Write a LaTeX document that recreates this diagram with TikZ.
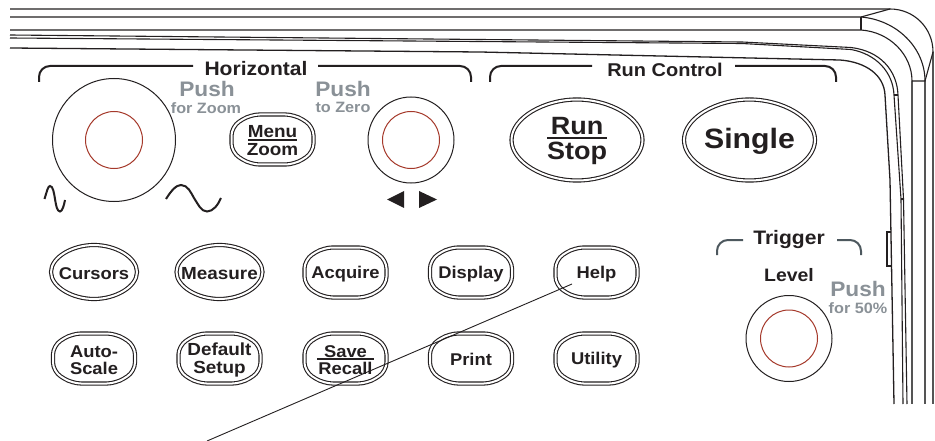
\documentclass[tikz,border=0pt]{standalone}
\usepackage{fontspec}
\setmainfont{Liberation Sans}[FakeStretch=1.08]
\definecolor{inkblack}{HTML}{231F20}
\definecolor{pushgray}{HTML}{8A9197}
\definecolor{knobred}{HTML}{A5392B}
\definecolor{trigslate}{HTML}{4D585E}
\definecolor{railgray}{HTML}{555555}
\newcommand{\fsize}[1]{\fontsize{#1}{#1}\selectfont\bfseries}
\newcommand{\barred}[3]{\rlap{\rule[-0.3ex]{#1}{1.6pt}}\makebox[#1]{#2}\\#3}
\newcommand{\octbtn}[4][]{
    \draw[btnline, shift={(#3,#4)}] (-41,-13) -- (-22,-25) -- (22,-25) -- (41,-13) -- (41,13) -- (22,25) -- (-22,25) -- (-41,13) -- cycle;
    \node[btntext,#1] (#2) at (#3,#4)
}
\newcommand{\lensbtn}[6][]{
    \draw[btnline, rounded corners=0pt, shift={(#3,#4)}] (-#5,0) .. controls (-#5,-0.55*#6) and (-0.5*#5,-#6) .. (0,-#6) .. controls (0.5*#5,-#6) and (#5,-0.55*#6) .. (#5,0) .. controls (#5,0.55*#6) and (0.5*#5,#6) .. (0,#6) .. controls (-0.5*#5,#6) and (-#5,0.55*#6) .. (-#5,0) -- cycle;
    \node[btntext,#1] (#2) at (#3,#4)
}
\tikzset{
    panel/.style={line width=1.1pt, draw=inkblack},
    rail/.style={line width=1.3pt, draw=railgray},
    btnline/.style={draw=inkblack, line width=1.1pt, double=white, double distance=2pt, rounded corners=9pt},
    btntext/.style={text=inkblack, font=\fsize{17}, align=center, inner sep=0pt, yshift=-1.3pt},
    bracket/.style={line width=2pt, draw=inkblack, rounded corners=11pt},
    title/.style={text=inkblack, inner sep=0pt},
    pushtext/.style={text=pushgray, inner sep=0pt},
    knob/.style={line width=1pt, draw=inkblack},
    knobcap/.style={line width=1pt, draw=knobred},
}
\begin{document}
\begin{tikzpicture}[x=1pt,y=-1pt]
    \useasboundingbox[fill=white] (0,0) rectangle (935,441);
    % bezel
    \draw[panel] (10,9) -- (890,9) .. controls (914,9) and (933,28) .. (933,52);
    \draw[rail] (933,52) -- (933,404);
    \draw[panel] (10,17) -- (861,17) -- (890,9);
    \draw[panel] (861,17) -- (861,30);
    \draw[panel] (861,17) .. controls (897,20) and (925,48) .. (925,81);
    \draw[rail] (925,81) -- (925,404);
    \draw[panel] (10,30) -- (861,30) .. controls (890,32) and (912,55) .. (912,81);
    \draw[rail] (912,81) -- (912,404);
    \draw[panel] (912,81) -- (925,81) -- (933,52);
    \draw[panel] (10,35) -- (742,42) -- (851,47.5) .. controls (880,51) and (897,70) .. (898,95) -- (903.5,199) -- (907,404);
    \draw[panel] (10,38) -- (742,43.5) -- (851,49.5) .. controls (876,54) and (893,72) .. (894,95) -- (901,199) -- (903,404);
    \draw[panel] (894,95) -- (898,95);
    \draw[panel] (901,199) -- (903.5,199);
    \draw[panel, line width=1.3pt] (10,48) -- (480,52) -- (840,60) .. controls (866,62) and (884,75) .. (885,95) -- (890,180) -- (894,404);
    \draw[panel] (890.5,232) -- (887,232) -- (887,266) -- (891.5,266);
    % section brackets
    \draw[bracket] (39,82) -- (39,66) -- (193,66);
    \draw[bracket] (318,66) -- (471,66) -- (471,82);
    \node[title, font=\fsize{19.5}] (horizontal) at (256,69) {Horizontal};
    \draw[bracket] (490,82) -- (490,66) -- (592,66);
    \draw[bracket] (735,66) -- (836,66) -- (836,82);
    \node[title, font=\fsize{18.5}] (runcontrol) at (665,70) {Run Control};
    \draw[bracket, draw=trigslate] (717,255) -- (717,240) -- (743,240);
    \draw[bracket, draw=trigslate] (837,240) -- (861,240) -- (861,255);
    \node[title, font=\fsize{19.5}] (trigger) at (789,240) {Trigger};
    \node[title, font=\fsize{18}] (level) at (789,275) {Level};
    % knobs
    \draw[knob] (114,140) circle (61.5);
    \draw[knobcap] (114,140) circle (28.5);
    \draw[knob] (411,140) circle (43);
    \draw[knobcap] (411,140) circle (28.5);
    \draw[knob] (789,338.5) circle (43);
    \draw[knobcap] (789,338.5) circle (28.5);
    \node[pushtext, font=\fsize{21}] (pushzoom) at (207,89) {Push};
    \node[pushtext, font=\fsize{15}] (forzoom) at (206,108) {for Zoom};
    \node[pushtext, font=\fsize{21}] (pushzero) at (343,89) {Push};
    \node[pushtext, font=\fsize{15}] (tozero) at (343,107) {to Zero};
    \node[pushtext, font=\fsize{21}] (pushlevel) at (858,289) {Push};
    \node[pushtext, font=\fsize{15}] (forfifty) at (858,308) {for 50\%};
    % sweep marks
    \draw[line width=2pt, draw=inkblack] (44.5,199) .. controls (47,191) and (48,186) .. (50,186) .. controls (53,186) and (54,193) .. (55,199) .. controls (56,205) and (57,211.5) .. (60,211.5) .. controls (62,211.5) and (64,206) .. (65,200);
    \draw[line width=2pt, draw=inkblack] (166,199) .. controls (171,191) and (176,185) .. (181,185) .. controls (188,185) and (191,193) .. (194,198) .. controls (198,204) and (201,211.5) .. (207,211.5) .. controls (213,211.5) and (218,205) .. (221,198);
    \fill[inkblack] (387,199.5) -- (404,191) -- (404,208) -- cycle;
    \fill[inkblack] (437,199.5) -- (419,191) -- (419,208) -- cycle;
    % buttons
    \octbtn[font=\fsize{17.5}]{menuzoom}{272.5}{139.5} {\barred{49pt}{Menu}{Zoom}};
    \lensbtn[font=\fsize{25}]{runstop}{577}{140}{65.5}{40.5} {\barred{60pt}{Run}{Stop}};
    \lensbtn[font=\fsize{28}]{single}{749.5}{140}{65.5}{40.5} {Single};
    \lensbtn{cursors}{94}{272}{43}{27} {Cursors};
    \lensbtn[font=\fsize{17.5}]{measure}{219.5}{272}{43}{27} {Measure};
    \foreach \bname/\bx/\by/\btext in {acquire/345.5/272.5/Acquire, display/471/272.5/Display, help/596.5/272.5/Help, print/471/358.5/Print, utility/596.5/358.5/Utility}
        {\octbtn{\bname}{\bx}{\by} {\btext};}
    \octbtn{autoscale}{94}{358.5} {Auto-\\Scale};
    \octbtn[font=\fsize{17.5}]{defaultsetup}{219.5}{358.5} {Default\\Setup};
    \octbtn{saverecall}{345.5}{358.5} {\barred{57pt}{Save}{Recall}};
    % leader
    \coordinate (helptip) at (572,284);
    \coordinate (helpend) at (207,441);
    \draw[line width=0.9pt, draw=inkblack] (helptip) -- (helpend);
\end{tikzpicture}
\end{document}
